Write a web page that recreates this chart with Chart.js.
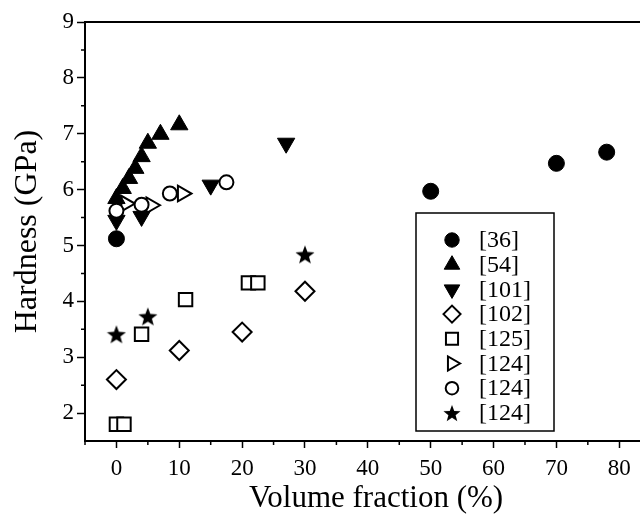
<!DOCTYPE html>
<html>
<head>
<meta charset="utf-8">
<script src="https://cdn.jsdelivr.net/npm/chart.js@4.4.1/dist/chart.umd.min.js"></script>
<style>
  html, body { margin: 0; padding: 0; background: #fff; }
  #wrap { width: 640px; height: 515px; }
</style>
</head>
<body>
<div id="wrap"><canvas id="graficoDureza"></canvas></div>
<script>
// values (volume fraction %, hardness GPa)
const ref36X = [0, 50, 70, 78];
const ref36Y = [5.12, 5.97, 6.47, 6.67];
const ref54X = [0, 1, 2, 3, 4, 5, 7, 10];
const ref54Y = [5.84, 6.02, 6.2, 6.38, 6.59, 6.83, 6.99, 7.16];
const ref101X = [0, 4, 15, 27];
const ref101Y = [5.45, 5.52, 6.08, 6.83];
const ref102X = [0, 10, 20, 30];
const ref102Y = [2.6, 3.12, 3.45, 4.18];
const ref125X = [0, 1.2, 4, 11, 21, 22.5];
const ref125Y = [1.8, 1.8, 3.41, 4.03, 4.33, 4.33];
const ref124TriX = [1.5, 5.5, 10.5];
const ref124TriY = [5.75, 5.72, 5.93];
const ref124CircX = [0, 4, 8.5, 17.5];
const ref124CircY = [5.62, 5.73, 5.93, 6.13];
const ref124StarX = [0, 5, 30];
const ref124StarY = [3.41, 3.73, 4.84];

const legendLabels = ['[36]', '[54]', '[101]', '[102]', '[125]', '[124]', '[124]', '[124]'];

// tick labels
const xTicks = [0, 10, 20, 30, 40, 50, 60, 70, 80];
const xMinorTicks = [-5, 5, 15, 25, 35, 45, 55, 65, 75];
const yTicks = [2, 3, 4, 5, 6, 7, 8, 9];
const yMinorTicks = [2.5, 3.5, 4.5, 5.5, 6.5, 7.5, 8.5];
const xTitle = 'Volume fraction (%)';

const fonte = "'Liberation Serif', 'Times New Roman', serif";
Chart.defaults.font.family = fonte;
Chart.defaults.color = '#000';

// filled star marker
function makeStar(size) {
    const c = document.createElement('canvas');
    c.width = size;
    c.height = size;
    const g = c.getContext('2d');
    const r = size / 2;
    const ri = r * 0.42;
    g.beginPath();
    for (let i = 0; i < 10; i++) {
        const a = -Math.PI / 2 + i * Math.PI / 5;
        const rr = i % 2 ? ri : r;
        g.lineTo(r + rr * Math.cos(a), r + 1 + rr * Math.sin(a));
    }
    g.closePath();
    g.fillStyle = '#000';
    g.fill();
    return c;
}
const starBig = makeStar(20);
const starSmall = makeStar(18);

function pontos(xs, ys) {
    return xs.map((x, i) => ({ x: x, y: ys[i] }));
}

function serie(label, xs, ys, estilo, extra) {
    return Object.assign({
        label: label,
        data: pontos(xs, ys),
        pointStyle: estilo,
        pointRadius: 8,
        pointRotation: 0,
        pointBackgroundColor: '#000',
        pointBorderColor: '#000',
        pointBorderWidth: 1,
        showLine: false,
        order: 5
    }, extra);
}

const datasets = [
    serie(legendLabels[0], ref36X, ref36Y, 'circle', { order: 0 }),
    serie(legendLabels[1], ref54X, ref54Y, 'triangle', { pointRadius: 10, order: 3 }),
    serie(legendLabels[2], ref101X, ref101Y, 'triangle', { pointRadius: 10, pointRotation: 180, order: 2 }),
    serie(legendLabels[3], ref102X, ref102Y, 'rectRot', { pointRadius: 9.5, pointBackgroundColor: '#fff', pointBorderWidth: 2 }),
    serie(legendLabels[4], ref125X, ref125Y, 'rect', { pointRadius: 9.5, pointBackgroundColor: '#fff', pointBorderWidth: 2 }),
    serie(legendLabels[5], ref124TriX, ref124TriY, 'triangle', { pointRadius: 9, pointRotation: 90, pointBackgroundColor: '#fff', pointBorderWidth: 2, order: 4 }),
    serie(legendLabels[6], ref124CircX, ref124CircY, 'circle', { pointRadius: 7, pointBackgroundColor: '#fff', pointBorderWidth: 2, order: 1 }),
    serie(legendLabels[7], ref124StarX, ref124StarY, starBig, { legendStyle: starSmall })
];

// top frame line, minor ticks, x title and the boxed legend
const extras = {
    id: 'extras',
    afterDraw(chart) {
        const { ctx, chartArea, scales } = chart;
        ctx.save();
        ctx.strokeStyle = '#000';
        ctx.lineWidth = 2;
        ctx.beginPath();
        ctx.moveTo(chartArea.left - 1, chartArea.top);
        ctx.lineTo(chart.width, chartArea.top);
        ctx.stroke();

        ctx.lineWidth = 1.5;
        ctx.beginPath();
        xMinorTicks.forEach(v => {
            const px = scales.x.getPixelForValue(v);
            ctx.moveTo(px, chartArea.bottom);
            ctx.lineTo(px, chartArea.bottom + 4);
        });
        yMinorTicks.forEach(v => {
            const py = scales.y.getPixelForValue(v);
            ctx.moveTo(chartArea.left, py);
            ctx.lineTo(chartArea.left - 4, py);
        });
        ctx.stroke();

        // the original axis runs on past the crop, so its title sits right of centre
        ctx.fillStyle = '#000';
        ctx.font = '31px ' + fonte;
        ctx.textAlign = 'center';
        ctx.textBaseline = 'alphabetic';
        ctx.fillText(xTitle, 376, 507);

        // legend
        const left = 416, top = 213, w = 138, h = 218;
        ctx.fillStyle = '#fff';
        ctx.fillRect(left, top, w, h);
        ctx.lineWidth = 1.5;
        ctx.strokeRect(left, top, w, h);
        ctx.font = '24px ' + fonte;
        ctx.textAlign = 'left';
        ctx.textBaseline = 'middle';
        chart.data.datasets.forEach((ds, i) => {
            const y = 240 + i * 24.7;
            ctx.fillStyle = ds.pointBackgroundColor;
            ctx.strokeStyle = '#000';
            ctx.lineWidth = ds.pointBorderWidth;
            Chart.helpers.drawPoint(ctx, {
                pointStyle: ds.legendStyle || ds.pointStyle,
                rotation: ds.pointRotation,
                radius: ds.pointRadius * 0.9,
                borderWidth: ds.pointBorderWidth
            }, 452, y);
            ctx.fillStyle = '#000';
            ctx.fillText(ds.label, 479, y + 1);
        });
        ctx.restore();
    }
};

const ctxDureza = document.getElementById('graficoDureza').getContext('2d');
const graficoDureza = new Chart(ctxDureza, {
    type: 'scatter',
    data: { datasets: datasets },
    options: {
        responsive: true,
        maintainAspectRatio: false,
        animation: false,
        events: [],
        layout: { autoPadding: false, padding: { top: 22, right: 0, bottom: 0, left: 0 } },
        plugins: {
            legend: { display: false },
            tooltip: { enabled: false }
        },
        scales: {
            x: {
                type: 'linear',
                min: -5,
                max: 83.3,
                afterBuildTicks: s => { s.ticks = xTicks.map(v => ({ value: v })); },
                afterFit: s => { s.height = 74; s.paddingRight = 0; s.paddingLeft = 0; },
                ticks: { font: { family: fonte, size: 23 }, padding: 7, color: '#000' },
                grid: { drawOnChartArea: false, tickLength: 7, tickWidth: 1.5, tickColor: '#000' },
                border: { color: '#000', width: 2 },
                title: { display: false }
            },
            y: {
                type: 'linear',
                min: 1.5,
                max: 9,
                afterBuildTicks: s => { s.ticks = yTicks.map(v => ({ value: v })); },
                afterFit: s => { s.width = 85; },
                ticks: { font: { family: fonte, size: 23 }, padding: 3, color: '#000' },
                grid: { drawOnChartArea: false, tickLength: 8, tickWidth: 1.5, tickColor: '#000' },
                border: { color: '#000', width: 2 },
                title: {
                    display: true,
                    text: 'Hardness (GPa)',
                    font: { family: fonte, size: 32 },
                    color: '#000',
                    padding: { top: 8, bottom: 0 }
                }
            }
        }
    },
    plugins: [extras]
});
</script>
</body>
</html>
